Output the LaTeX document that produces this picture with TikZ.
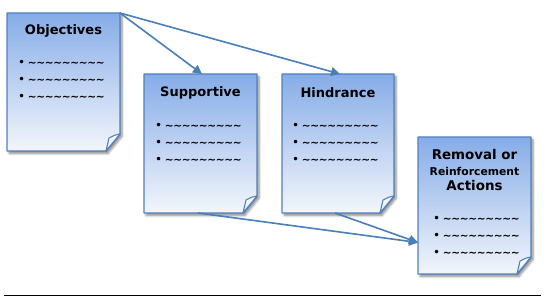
\documentclass[tikz,border=0pt]{standalone}
\usepackage{fontspec}
\setmainfont{DejaVu Sans}
\newfontfamily\tildefont{DejaVu Sans}
\usetikzlibrary{arrows.meta,shadows.blur,calc}
\definecolor{pageblue}{HTML}{4F81BD}
\definecolor{pagetop}{HTML}{86ACE8}
\definecolor{pagebot}{HTML}{F3F6FB}
\definecolor{arrowblue}{HTML}{4A7EBB}
\newcommand{\tildrow}{{\fontsize{12}{17}\selectfont\textbullet}\hspace{2.5pt}{\tildefont\bfseries\textasciitilde\kern-0.3pt\textasciitilde\kern-0.3pt\textasciitilde\kern-0.3pt\textasciitilde\kern-0.3pt\textasciitilde\kern-0.3pt\textasciitilde\kern-0.3pt\textasciitilde\kern-0.3pt\textasciitilde\kern-0.3pt\textasciitilde}}
\newcommand{\docpage}[1]{%
  \path[blur shadow={shadow xshift=2pt,shadow yshift=-2.5pt,shadow blur steps=6,shadow opacity=45},
        top color=pagetop,bottom color=pagebot,draw=pageblue,line width=1.4pt,line join=round]
    (#1.north west) -- (#1.north east) -- ([yshift=17pt]#1.south east)
    -- ([xshift=-14pt]#1.south east) -- (#1.south west) -- cycle;
  \path[top color=white,bottom color=pagebot!80!pagetop,draw=pageblue,line width=1.1pt,line join=round]
    ([yshift=17pt]#1.south east) .. controls ([xshift=-5pt,yshift=16pt]#1.south east) .. ([xshift=-11pt,yshift=13pt]#1.south east)
    .. controls ([xshift=-12pt,yshift=6pt]#1.south east) .. ([xshift=-14pt]#1.south east) -- cycle;
}
\begin{document}
\begin{tikzpicture}[x=1pt,y=-1pt,
  pagebox/.style={minimum width=113pt,minimum height=138pt,inner sep=0pt,outer sep=0pt},
  title/.style={font=\bfseries\fontsize{13}{15}\selectfont,inner sep=0pt},
  bigtitle/.style={font=\bfseries\fontsize{13.4}{15}\selectfont,inner sep=0pt},
  smalltitle/.style={font=\bfseries\fontsize{10.8}{12}\selectfont,inner sep=0pt},
  items/.style={font=\fontsize{10.5}{17}\selectfont,align=left,inner sep=0pt,anchor=west},
  conn/.style={draw=arrowblue,line width=1.6pt,-{Triangle[length=9pt,width=9pt]}},
]
\useasboundingbox (0,0) rectangle (545,304);
\node[pagebox] (obj) at (63.5,82) {};
\node[pagebox,minimum height=139pt] (sup) at (200.5,143.5) {};
\node[pagebox,minimum width=112pt,minimum height=139pt] (hin) at (338,143.5) {};
\node[pagebox,minimum height=137pt] (rem) at (474.5,205.5) {};
\docpage{obj}
\docpage{sup}
\docpage{hin}
\docpage{rem}
% connectors
\coordinate (remin) at ([yshift=-37pt]rem.west);
\draw[conn] (obj.north east) -- ([xshift=1.5pt]sup.north);
\draw[conn] (obj.north east) -- ([xshift=2pt]hin.north);
\draw[conn] ([xshift=-2.5pt]sup.south) -- (remin);
\draw[conn] ([xshift=-3pt]hin.south) -- (remin);
% texts
\node[title] (objt) at ([yshift=-18pt]obj.north) {Objectives};
\node[title] (supt) at ([yshift=-19pt]sup.north) {Supportive};
\node[title] (hint) at ([yshift=-19pt]hin.north) {Hindrance};
\node[bigtitle] (remt1) at ([yshift=-18pt]rem.north) {Removal or};
\node[smalltitle] (remt2) at ([yshift=-34pt]rem.north) {Reinforcement};
\node[bigtitle] (remt3) at ([yshift=-49pt]rem.north) {Actions};
\node[items] (obji) at ([xshift=11pt,yshift=-67pt]obj.north west) {\tildrow\\\tildrow\\\tildrow};
\node[items] (supi) at ([xshift=11pt,yshift=-69pt]sup.north west) {\tildrow\\\tildrow\\\tildrow};
\node[items] (hini) at ([xshift=10pt,yshift=-69pt]hin.north west) {\tildrow\\\tildrow\\\tildrow};
\node[items] (remi) at ([xshift=15pt,yshift=-99pt]rem.north west) {\tildrow\\\tildrow\\\tildrow};
% rule
\coordinate (ruleL) at (4,295);
\coordinate (ruleR) at (541,295);
\draw[line width=0.9pt] (ruleL) -- (ruleR);
\end{tikzpicture}
\end{document}
